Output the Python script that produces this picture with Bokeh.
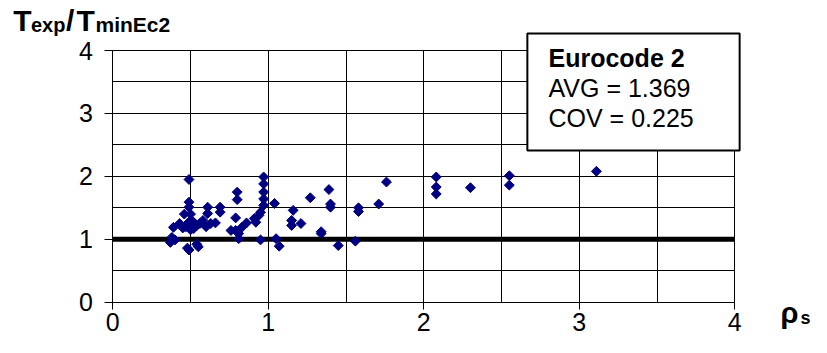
import numpy as np
from bokeh.plotting import figure
from bokeh.models import ColumnDataSource, FixedTicker, Label
from bokeh.embed import file_html
from bokeh.resources import INLINE

# ---- data ----
rho_s = [0.38, 0.37, 0.39, 0.40,
         0.49, 0.49, 0.49, 0.46, 0.50, 0.48, 0.49, 0.54, 0.55,
         0.43, 0.48, 0.52, 0.52, 0.56, 0.58, 0.63, 0.47, 0.50, 0.45, 0.54, 0.60, 0.66, 0.50,
         0.61, 0.61, 0.69, 0.69,
         0.76, 0.79, 0.81, 0.81, 0.80, 0.80, 0.79, 0.83, 0.86, 0.91, 0.92, 0.94, 0.95,
         0.97, 0.97, 0.97, 0.97, 0.97, 0.95,
         1.04, 1.05, 1.07,
         1.16, 1.15, 1.15, 1.21, 1.27, 1.39, 1.40, 1.40, 1.34, 1.34, 1.45, 1.56, 1.58, 1.58,
         1.71, 1.76,
         2.08, 2.08, 2.08, 2.30, 2.55, 2.55, 3.11]
t_ratio = [1.03, 0.95, 1.19, 0.99,
           1.95, 1.59, 1.51, 1.40, 1.40, 0.86, 0.83, 0.92, 0.88,
           1.25, 1.25, 1.27, 1.17, 1.25, 1.30, 1.25, 1.20, 1.15, 1.18, 1.22, 1.20, 1.26, 1.30,
           1.51, 1.41, 1.51, 1.43,
           1.14, 1.14, 1.09, 1.01, 1.75, 1.63, 1.34, 1.19, 1.26, 1.33, 1.27, 1.38, 1.43,
           1.99, 1.88, 1.75, 1.64, 1.54, 0.99,
           1.57, 1.01, 0.89,
           1.46, 1.30, 1.22, 1.25, 1.66, 1.79, 1.56, 1.51, 1.12, 1.09, 0.90, 0.97, 1.50, 1.44,
           1.56, 1.91,
           1.99, 1.83, 1.72, 1.82, 2.01, 1.86, 2.08]

major_ticks = [0, 1, 2, 3, 4]
minor_ticks = [0.5, 1.5, 2.5, 3.5]
reference_level = 1.0
legend_lines = ["Eurocode 2", "AVG = 1.369", "COV = 0.225"]

FONT = "Liberation Sans"
W, H = 811, 337
# layout geometry (pixels) of the plotting area inside the canvas
LEFT, RIGHT, TOP, BOTTOM = 112.3, 734.3, 50.0, 301.7
AX0, AX1 = major_ticks[0], major_ticks[-1]
sx = (RIGHT - LEFT) / (AX1 - AX0)
sy = (BOTTOM - TOP) / (AX1 - AX0)
BASE_K = 0.42  # empirical baseline correction (fraction of font size)


def X(px):
    return AX0 + (px - LEFT) / sx


def Y(py):
    return AX0 + (BOTTOM - py) / sy


def YB(py, fs):
    """data y for a text whose alphabetic baseline should sit at pixel py"""
    return Y(py - BASE_K * fs)


p = figure(width=W, height=H, x_range=(X(0), X(W)), y_range=(Y(H), Y(0)),
           output_backend="svg", toolbar_location=None,
           min_border_left=0, min_border_right=0, min_border_top=0, min_border_bottom=0,
           background_fill_color="white", border_fill_color="white")
p.outline_line_color = None

for ax in (p.xaxis[0], p.yaxis[0]):
    ax.ticker = FixedTicker(ticks=major_ticks, minor_ticks=minor_ticks)
    ax.fixed_location = AX0
    ax.bounds = (AX0, AX1)
    ax.major_tick_in = 0
    ax.minor_tick_in = 0
    ax.minor_tick_out = 0
    ax.axis_line_color = "black"
    ax.major_tick_line_color = "black"
    ax.major_label_text_font = FONT
    ax.major_label_text_font_size = "25px"
    ax.major_label_text_color = "black"

p.xaxis.major_tick_out = 7
p.xaxis.major_label_standoff = 4
p.yaxis.major_tick_out = 8
p.yaxis.major_label_standoff = 12

for g in (p.xgrid[0], p.ygrid[0]):
    g.bounds = (AX0, AX1)
    g.cross_bounds = (AX0, AX1)
    g.grid_line_color = "black"
    g.grid_line_width = 1
    g.minor_grid_line_color = "black"
    g.minor_grid_line_width = 1

# thick reference line at T_exp/T_min = 1
p.line(x=[AX0, AX1], y=[reference_level, reference_level], line_color="black",
       line_width=5)

src = ColumnDataSource(dict(x=rho_s, y=t_ratio))
p.scatter("x", "y", source=src, marker="square", angle=np.pi / 4, size=7,
          fill_color="#000080", line_color="#000080")

# ---- legend / statistics box ----
box = Label(x=X(633), y=Y(91.5), text=" ",
            text_font_size="1px", text_align="center", text_baseline="middle",
            background_fill_color="white", border_line_color="black",
            border_line_width=2,
            padding=dict(left=106, right=106, top=58, bottom=58))
p.add_layout(box)
for txt, py, st in [(legend_lines[0], 67.7, "bold"), (legend_lines[1], 98.3, "normal"),
                    (legend_lines[2], 128.3, "normal")]:
    p.add_layout(Label(x=X(548), y=YB(py, 25), text=txt,
                       text_font=FONT, text_font_size="25px", text_font_style=st,
                       text_color="black", text_baseline="alphabetic"))

# ---- y title: Texp/TminEc2 ----
title_parts = [(12.7, "T", 30), (30.5, "exp", 20), (65.5, "/", 30),
               (76, "T", 30), (95, "minEc2", 21)]
for px, txt, fs in title_parts:
    p.add_layout(Label(x=X(px), y=YB(33, fs), text=txt,
                       text_font=FONT, text_font_size=f"{fs}px", text_color="black",
                       text_font_style="bold", text_baseline="alphabetic"))

# ---- x title: rho_s ----
p.add_layout(Label(x=X(780), y=YB(325, 29), text="ρ",
                   text_font=FONT, text_font_size="29px", text_color="black",
                   text_font_style="bold", text_baseline="alphabetic"))
p.add_layout(Label(x=X(800), y=YB(325, 18), text="s",
                   text_font=FONT, text_font_size="18px", text_color="black",
                   text_font_style="bold", text_baseline="alphabetic"))

open("out.html", "w").write(file_html(p, INLINE))
